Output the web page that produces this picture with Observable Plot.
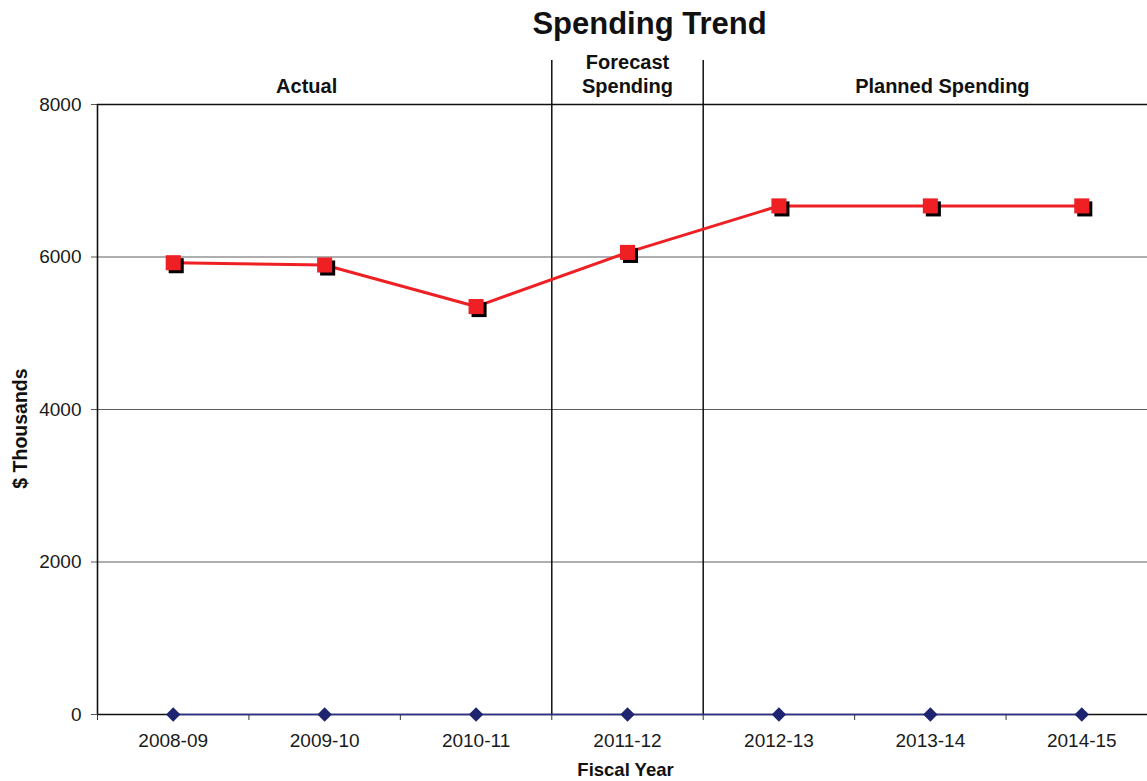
<!DOCTYPE html>
<html>
<head>
<meta charset="utf-8">
<script src="https://cdn.jsdelivr.net/npm/d3@7"></script>
<script src="https://cdn.jsdelivr.net/npm/@observablehq/plot@0.6"></script>
<style>
  html, body { margin: 0; padding: 0; background: #fff; overflow: hidden; }
  #chart svg { display: block; }
</style>
</head>
<body>
<div id="chart"></div>
<script>
const years = ["2008-09", "2009-10", "2010-11", "2011-12", "2012-13", "2013-14", "2014-15"];
const spending = [5925, 5895, 5350, 6060, 6670, 6670, 6670];
const zeroSeries = [0, 0, 0, 0, 0, 0, 0];
const yTicks = [0, 2000, 4000, 6000, 8000];
const gridValues = [2000, 4000, 6000];
const periodBreaks = [2.5, 3.5];
const periodNames = ["Actual", "Forecast\nSpending", "Planned Spending"];

const spendData = years.map((y, i) => ({i, year: y, value: spending[i]}));
const zeroData = years.map((y, i) => ({i, year: y, value: zeroSeries[i]}));
const tickBounds = d3.range(-0.5, 7, 1);

const font = "'Liberation Sans', Arial, Helvetica, sans-serif";
const labelStyle = {frameAnchor: "top", lineAnchor: "bottom", fontWeight: "bold", fontSize: 20, lineHeight: 1.2, fill: "#111", dy: -12};

const chart = Plot.plot({
  width: 1147,
  height: 781,
  marginTop: 104,
  marginBottom: 67,
  marginLeft: 97,
  marginRight: 0,
  style: {fontFamily: font, fontSize: "19px", color: "#1a1a1a", background: "#fff", overflow: "visible"},
  x: {type: "linear", domain: [-0.5, 6.5], range: [97, 1157]},
  y: {type: "linear", domain: [0, 8000], range: [714, 104]},
  marks: [
    Plot.ruleY(gridValues, {stroke: "#5e5e5e", strokeWidth: 1}),
    Plot.ruleY([8000], {stroke: "#111", strokeWidth: 1.6}),
    Plot.axisY({ticks: yTicks, tickSize: 6, tickPadding: 10, tickFormat: d => String(d), label: null, stroke: "#555", fontSize: 19}),
    Plot.ruleX([-0.5], {y1: 8000, y2: 0, stroke: "#111", strokeWidth: 1.6}),
    Plot.ruleX(periodBreaks, {y1: 8000, y2: 0, insetTop: -44, stroke: "#111", strokeWidth: 1.5}),
    Plot.ruleY([0], {stroke: "#111", strokeWidth: 1.5}),
    Plot.axisX({ticks: tickBounds, tickSize: 6, tickFormat: () => "", label: null, stroke: "#333"}),
    Plot.axisX({ticks: d3.range(7), tickSize: 0, tickPadding: 19, tickFormat: i => years[i], label: null, fontSize: 19}),
    // zero series
    Plot.line(zeroData, {x: "i", y: "value", stroke: "#2e3192", strokeWidth: 1.6}),
    Plot.dot(zeroData, {x: "i", y: "value", symbol: "diamond2", r: 6.5, fill: "#1f2470", stroke: "none"}),
    // spending series
    Plot.line(spendData, {x: "i", y: "value", stroke: "#ee2024", strokeWidth: 3}),
    Plot.dot(spendData, {x: "i", y: "value", symbol: "square", r: 8.5, fill: "#000", dx: 3, dy: 3}),
    Plot.dot(spendData, {x: "i", y: "value", symbol: "square", r: 8.5, fill: "#ee2024"}),
    // period labels
    Plot.text([periodNames[0]], {x: 1, dx: -18, ...labelStyle}),
    Plot.text([periodNames[1]], {x: 3, dx: 0, ...labelStyle}),
    Plot.text([periodNames[2]], {x: 5, dx: 12, ...labelStyle}),
    // title
    Plot.text(["Spending Trend"], {x: 3, frameAnchor: "top", lineAnchor: "middle", dy: -80, fontSize: 31, fontWeight: "bold", fill: "#111", dx: 22}),
    // axis titles
    Plot.text(["Fiscal Year"], {x: 3, frameAnchor: "bottom", lineAnchor: "middle", dy: 56, fontWeight: "bold", fontSize: 18.5, fill: "#111", dx: -2}),
    Plot.text(["$ Thousands"], {frameAnchor: "left", textAnchor: "middle", lineAnchor: "middle", dx: -77, dy: 19, rotate: -90, fontWeight: "bold", fontSize: 19.5, fill: "#111"})
  ]
});

document.getElementById("chart").appendChild(chart);
</script>
</body>
</html>
